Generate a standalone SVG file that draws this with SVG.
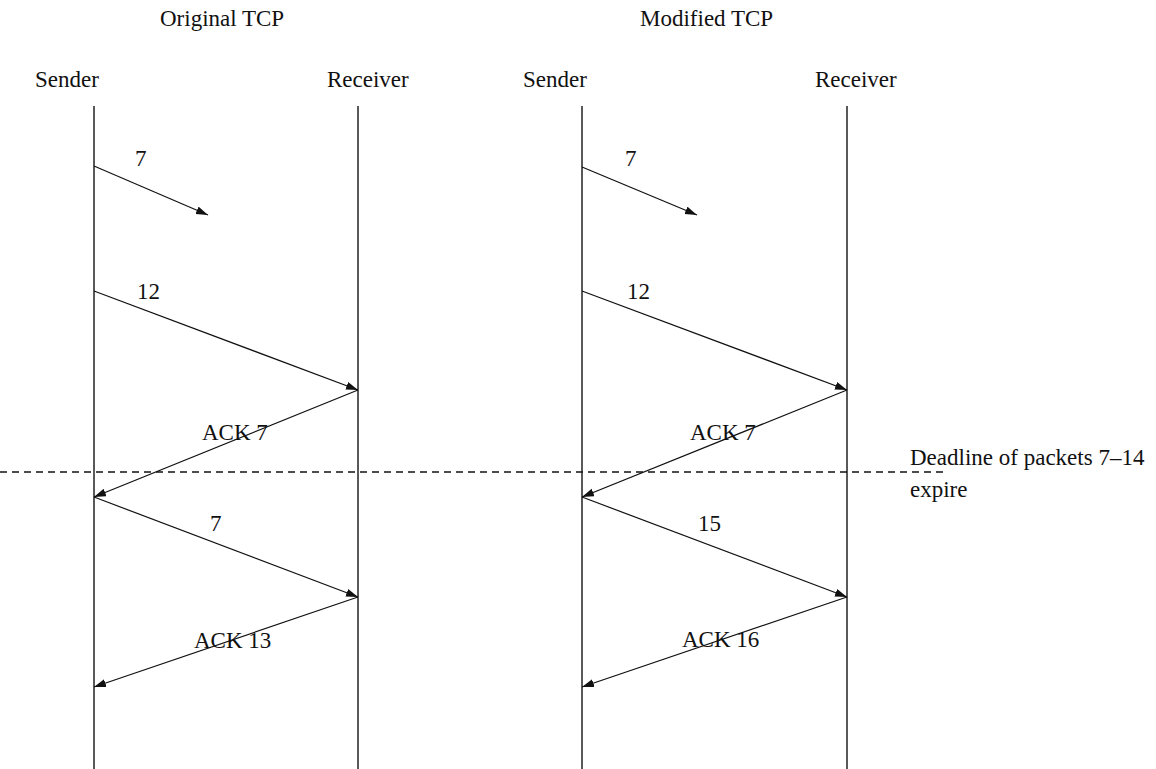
<svg xmlns="http://www.w3.org/2000/svg" width="1156" height="769" viewBox="0 0 1156 769">
<style>
text{font-family:"Liberation Serif","Times New Roman",serif;font-size:23px;fill:#111}
.life{stroke:#222;stroke-width:1.5;fill:none}
.msg{stroke:#111;stroke-width:1.2;fill:none;marker-end:url(#ah)}
.dash{stroke:#111;stroke-width:1.3;stroke-dasharray:7 5;fill:none}
</style>
<defs>
<marker id="ah" markerUnits="userSpaceOnUse" markerWidth="14" markerHeight="9" refX="12" refY="4" orient="auto">
<path d="M0,0 L12,4 L0,8 z" fill="#111"/>
</marker>
</defs>
<rect width="1156" height="769" fill="#fff"/>
<g id="titles">
<text x="160" y="26">Original TCP</text>
<text x="640" y="26">Modified TCP</text>
</g>
<g id="sender-left"><text x="35" y="87">Sender</text><line class="life" x1="94" y1="106" x2="94" y2="769"/></g>
<g id="receiver-left"><text x="327" y="87">Receiver</text><line class="life" x1="358" y1="106" x2="358" y2="769"/></g>
<g id="sender-right"><text x="523" y="87">Sender</text><line class="life" x1="582" y1="106" x2="582" y2="769"/></g>
<g id="receiver-right"><text x="815" y="87">Receiver</text><line class="life" x1="847" y1="106" x2="847" y2="769"/></g>
<g id="connectors">
<line class="msg" x1="94" y1="166" x2="208" y2="215"/>
<line class="msg" x1="94" y1="291" x2="358" y2="390"/>
<line class="msg" x1="358" y1="390" x2="94" y2="497"/>
<line class="msg" x1="94" y1="497" x2="358" y2="597"/>
<line class="msg" x1="358" y1="597" x2="94" y2="687"/>
<line class="msg" x1="582" y1="167" x2="697" y2="215"/>
<line class="msg" x1="582" y1="291" x2="847" y2="390"/>
<line class="msg" x1="847" y1="390" x2="582" y2="497"/>
<line class="msg" x1="582" y1="497" x2="847" y2="597"/>
<line class="msg" x1="847" y1="597" x2="582" y2="687"/>
<line class="dash" x1="0" y1="472" x2="947" y2="472"/>
</g>
<g id="labels">
<text x="135" y="166">7</text>
<text x="137" y="299">12</text>
<text x="202" y="440">ACK 7</text>
<text x="210" y="531">7</text>
<text x="194" y="648">ACK 13</text>
<text x="625" y="166">7</text>
<text x="627" y="299">12</text>
<text x="690" y="440">ACK 7</text>
<text x="698" y="531">15</text>
<text x="682" y="647">ACK 16</text>
</g>
<g id="deadline-note">
<text x="910" y="465">Deadline of packets 7–14</text>
<text x="910" y="497">expire</text>
</g>
</svg>
